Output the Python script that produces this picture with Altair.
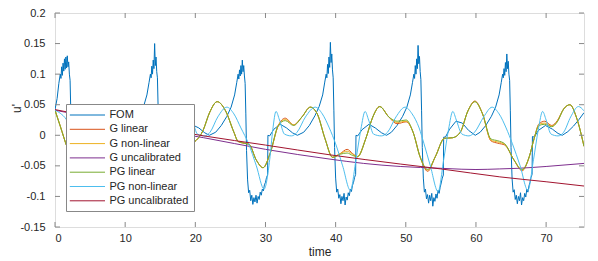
import altair as alt
import pandas as pd

FONT = "Liberation Sans"

names = ["FOM", "G linear", "G non-linear", "G uncalibrated",
         "PG linear", "PG non-linear", "PG uncalibrated"]
colors = ["#0072BD", "#D95319", "#EDB120", "#7E2F8E",
          "#77AC30", "#4DBEEE", "#A2142F"]

x_ticks = [0, 10, 20, 30, 40, 50, 60, 70]
y_ticks = [-0.15, -0.1, -0.05, 0, 0.05, 0.1, 0.15, 0.2]

# ---------------- FOM (noisy reference signal) ----------------
fom_t = [
    0.0, 0.3, 0.55, 0.75, 0.85, 0.95, 1.05, 1.15, 1.25, 1.35, 1.45, 1.55, 1.65, 1.75,
    1.85, 1.95, 2.05, 2.15, 2.25, 2.35, 2.5, 2.65, 2.8, 2.95, 3.1, 3.25, 3.4, 3.55,
    3.7, 3.85, 4.0, 4.15, 4.3, 4.45, 4.6, 4.75, 4.9, 5.05, 5.2, 5.35, 5.4, 5.65,
    6.25, 7.15, 8.0, 8.9, 9.6,
    10.4, 11.2, 12.0, 12.6, 13.1, 13.4, 13.6, 13.7, 13.8, 13.9, 14.0, 14.1, 14.2,
    14.3, 14.4, 14.5, 14.6, 14.7, 14.8, 14.95, 15.1, 15.25, 15.4, 15.55, 15.7, 15.85,
    16.0, 16.15, 16.3, 16.45, 16.6, 16.75, 16.9, 17.05, 17.2, 17.35, 17.5, 17.65,
    17.8, 17.85, 18.1, 18.7, 19.6, 20.5, 21.35, 22.0,
    22.9, 23.7, 24.5, 25.1, 25.6, 25.9, 26.1, 26.2, 26.3, 26.4, 26.5, 26.6, 26.7,
    26.8, 26.9, 27.0, 27.1, 27.2, 27.3, 27.45, 27.6, 27.75, 27.9, 28.05, 28.2, 28.35,
    28.5, 28.65, 28.8, 28.95, 29.1, 29.25, 29.4, 29.55, 29.7, 29.85, 30.0, 30.15,
    30.3, 30.35, 30.6, 31.2, 32.1, 33.0, 33.85, 34.55,
    35.45, 36.25, 37.05, 37.65, 38.15, 38.45, 38.65, 38.75, 38.85, 38.95, 39.05,
    39.15, 39.25, 39.35, 39.45, 39.55, 39.65, 39.75, 39.85, 40.0, 40.15, 40.3, 40.45,
    40.6, 40.75, 40.9, 41.05, 41.2, 41.35, 41.5, 41.65, 41.8, 41.95, 42.1, 42.25,
    42.4, 42.55, 42.7, 42.85, 42.9, 43.15, 43.75, 44.75, 45.65, 46.55, 47.25,
    47.95, 48.75, 49.55, 50.15, 50.65, 50.95, 51.15, 51.25, 51.35, 51.45, 51.55,
    51.65, 51.75, 51.85, 51.95, 52.05, 52.15, 52.25, 52.35, 52.5, 52.65, 52.8, 52.95,
    53.1, 53.25, 53.4, 53.55, 53.7, 53.85, 54.0, 54.15, 54.3, 54.45, 54.6, 54.75,
    54.9, 55.05, 55.2, 55.35, 55.4, 55.65, 56.25, 57.15, 58.05, 58.95, 59.9,
    60.6, 61.4, 62.2, 62.8, 63.3, 63.6, 63.8, 63.9, 64.0, 64.1, 64.2, 64.3, 64.4,
    64.5, 64.6, 64.7, 64.8, 64.9, 65.0, 65.15, 65.3, 65.45, 65.6, 65.75, 65.9, 66.05,
    66.2, 66.35, 66.5, 66.65, 66.8, 66.95, 67.1, 67.25, 67.4, 67.55, 67.7, 67.85,
    68.0, 68.05, 68.3, 68.9, 69.9, 70.9, 71.7, 72.3, 73.1, 73.9, 74.7, 75.4,
]
fom_v = [
    0.042, 0.06, 0.085, 0.1, 0.093, 0.112, 0.098, 0.118, 0.105, 0.125, 0.108, 0.128, 0.11, 0.13,
    0.112, 0.12, 0.1, 0.09, 0.04, -0.02, -0.07, -0.093, -0.088, -0.102, -0.097, -0.108, -0.095, -0.105,
    -0.097, -0.111, -0.1, -0.106, -0.097, -0.103, -0.092, -0.097, -0.088, -0.092, -0.078, -0.066, 0.0, -0.002,
    0.009, 0.017, 0.012, 0.004, 0.001,
    0.005, 0.016, 0.031, 0.046, 0.066, 0.086, 0.1, 0.094, 0.113, 0.1, 0.123, 0.109, 0.15,
    0.114, 0.128, 0.104, 0.094, 0.045, -0.02, -0.068, -0.093, -0.088, -0.105, -0.097, -0.111, -0.097,
    -0.107, -0.095, -0.113, -0.101, -0.107, -0.094, -0.102, -0.09, -0.095, -0.086, -0.078, -0.07,
    -0.064, 0.0, -0.001, 0.009, 0.017, 0.012, 0.004, 0.0,
    0.005, 0.016, 0.031, 0.046, 0.066, 0.086, 0.1, 0.092, 0.107, 0.097, 0.114, 0.1, 0.123,
    0.104, 0.114, 0.097, 0.085, 0.035, -0.025, -0.073, -0.094, -0.09, -0.107, -0.098, -0.113, -0.102,
    -0.109, -0.098, -0.111, -0.1, -0.105, -0.093, -0.098, -0.088, -0.091, -0.081, -0.077, -0.069,
    -0.065, 0.0, -0.001, 0.01, 0.018, 0.012, 0.004, 0.0,
    0.005, 0.016, 0.032, 0.047, 0.066, 0.087, 0.1, 0.094, 0.116, 0.101, 0.128,
    0.111, 0.152, 0.119, 0.133, 0.107, 0.094, 0.04, -0.02, -0.07, -0.093, -0.088, -0.103,
    -0.097, -0.112, -0.1, -0.107, -0.095, -0.114, -0.101, -0.106, -0.094, -0.099, -0.088, -0.092,
    -0.082, -0.077, -0.069, -0.064, 0.0, -0.001, 0.009, 0.018, 0.012, 0.004, 0.0,
    0.005, 0.016, 0.031, 0.046, 0.066, 0.086, 0.1, 0.093, 0.114, 0.1, 0.125,
    0.109, 0.147, 0.117, 0.129, 0.104, 0.091, 0.04, -0.02, -0.07, -0.093, -0.088, -0.104,
    -0.097, -0.111, -0.098, -0.107, -0.095, -0.116, -0.102, -0.108, -0.096, -0.103, -0.09, -0.095,
    -0.085, -0.078, -0.07, -0.065, -0.003, -0.003, 0.01, 0.023, 0.02, 0.008, 0.0,
    0.005, 0.016, 0.031, 0.046, 0.066, 0.086, 0.1, 0.094, 0.109, 0.098, 0.119, 0.104, 0.133,
    0.109, 0.121, 0.1, 0.09, 0.04, -0.02, -0.071, -0.093, -0.089, -0.105, -0.098, -0.112, -0.1,
    -0.107, -0.094, -0.114, -0.102, -0.107, -0.095, -0.101, -0.088, -0.093, -0.083, -0.077, -0.069,
    -0.064, -0.002, -0.003, 0.008, 0.016, 0.01, 0.003, 0.0, 0.006, 0.015, 0.026, 0.037,
]

# ---------------- Galerkin / Petrov-Galerkin linear & non-linear ----------------
glin_t = [0, 0.75, 1.74, 2.73, 4.2, 5.7, 6.69, 7.68, 9.66, 11.14,
          12.63, 14.6, 17.08, 19.06, 21.14, 22.03, 23.12, 24.31, 25.5, 26.09,
          26.98, 27.68, 28.67, 29.66, 30.65, 31.83, 32.82, 34.01, 35.2, 36.39,
          37.38, 38.47, 39.56, 40.65, 41.64, 42.43, 43.12, 44.31, 45.3, 46.29,
          47.58, 48.76, 50.05, 51.04, 52.03, 53.12, 54.21, 55.5, 56.68, 57.77,
          58.86, 59.85, 60.94, 62.13, 63.12, 64.11, 65.4, 66.58, 67.6, 68.3,
          69.0, 69.8, 70.8, 71.6, 72.5, 73.4, 74.3, 75.4]
glin_v = [0.041, 0.015, -0.02, -0.045, -0.055, -0.03, 0.0, 0.025, 0.048, 0.03,
          0.0, -0.03, -0.05, -0.02, 0.009, 0.037, 0.055, 0.04, 0.005, -0.01,
          -0.013, -0.015, -0.04, -0.053, -0.03, 0.016, 0.028, 0.017, 0.03, 0.046,
          0.035, -0.005, -0.036, -0.03, -0.023, -0.03, -0.035, -0.005, 0.03, 0.047,
          0.03, 0.019, 0.022, 0.005, -0.035, -0.059, -0.035, -0.005, -0.004, 0.005,
          0.04, 0.056, 0.035, -0.009, -0.013, -0.016, -0.04, -0.058, -0.035, -0.005,
          0.019, 0.023, 0.016, 0.024, 0.043, 0.05, 0.03, -0.018]
gnl_v = [0.041, 0.015, -0.02, -0.045, -0.055, -0.03, 0.0, 0.025, 0.048, 0.03,
         0.0, -0.03, -0.05, -0.02, 0.009, 0.037, 0.055, 0.04, 0.005, -0.01,
         -0.013, -0.015, -0.04, -0.053, -0.03, 0.016, 0.026, 0.017, 0.03, 0.046,
         0.035, -0.005, -0.036, -0.03, -0.026, -0.031, -0.035, -0.005, 0.03, 0.047,
         0.03, 0.021, 0.023, 0.005, -0.035, -0.057, -0.035, -0.005, -0.004, 0.005,
         0.04, 0.055, 0.035, -0.008, -0.011, -0.015, -0.04, -0.057, -0.035, -0.005,
         0.018, 0.02, 0.015, 0.023, 0.043, 0.05, 0.03, -0.018]
pglin_v = [0.041, 0.015, -0.02, -0.045, -0.055, -0.03, 0.0, 0.025, 0.048, 0.03,
           0.0, -0.03, -0.05, -0.02, 0.009, 0.037, 0.055, 0.04, 0.005, -0.01,
           -0.013, -0.015, -0.04, -0.053, -0.03, 0.016, 0.024, 0.016, 0.03, 0.046,
           0.035, -0.005, -0.036, -0.031, -0.029, -0.033, -0.035, -0.005, 0.03, 0.047,
           0.03, 0.023, 0.025, 0.005, -0.035, -0.056, -0.035, -0.005, -0.004, 0.005,
           0.04, 0.055, 0.035, -0.006, -0.009, -0.014, -0.04, -0.056, -0.035, -0.005,
           0.016, 0.018, 0.014, 0.022, 0.043, 0.05, 0.03, -0.018]

pgnl_t = [0, 0.75, 1.6, 2.6, 3.7, 4.8, 5.6, 6.1, 6.6, 7.1, 7.8, 8.8, 9.6, 10.8,
          12.0, 13.0, 14.0, 15.1, 16.2, 17.3, 18.1, 18.6, 19.1, 19.6, 20.3, 21.3,
          22.1, 23.2, 24.5, 25.5, 26.5, 27.6, 28.7, 29.8, 30.6, 31.05, 31.5, 32.0,
          32.7, 33.7, 34.5, 35.7, 37.1, 38.1, 39.1, 40.0, 41.0, 42.1, 42.9, 43.6,
          44.2, 44.7, 45.4, 46.5, 47.4, 48.6, 49.9, 50.9, 51.9, 52.6, 53.5, 54.6,
          55.4, 56.1, 56.7, 57.2, 58.0, 59.0, 59.8, 61.1, 62.3, 63.3, 64.3, 65.2,
          66.3, 67.4, 68.2, 68.9, 69.5, 70.0, 70.7, 71.7, 72.5, 73.5, 74.6, 75.4]
pgnl_v = [0.041, 0.036, 0.026, 0.0, -0.045, -0.088, -0.04, 0.01, 0.039, 0.025, 0.002, -0.001, 0.005, 0.03,
          0.046, 0.035, 0.012, -0.014, -0.05, -0.088, -0.04, 0.01, 0.039, 0.025, 0.002, -0.001,
          0.005, 0.03, 0.046, 0.035, 0.012, -0.014, -0.05, -0.088, -0.04, 0.01, 0.039, 0.025,
          0.002, -0.001, 0.005, 0.03, 0.046, 0.035, 0.012, -0.014, -0.05, -0.09, -0.04, 0.01,
          0.039, 0.025, 0.002, -0.001, 0.005, 0.03, 0.046, 0.035, 0.012, -0.014, -0.05, -0.092,
          -0.04, 0.01, 0.039, 0.025, 0.002, -0.001, 0.005, 0.03, 0.046, 0.035, 0.012, -0.014,
          -0.05, -0.09, -0.04, 0.01, 0.039, 0.025, 0.002, -0.001, 0.005, 0.03, 0.047, 0.04]

# ---------------- uncalibrated models (slow drift) ----------------
gunc_t = [0, 5, 10, 15, 21.2, 30, 39.2, 44, 49.2, 55, 58, 60, 63.4, 66, 70, 75.4]
gunc_v = [0.041, 0.03, 0.019, 0.008, -0.004, -0.023, -0.039, -0.046, -0.051,
          -0.054, -0.0555, -0.056, -0.055, -0.054, -0.051, -0.046]
pgunc_t = [0, 5, 10, 15, 21.2, 30, 39.2, 49.2, 55, 63.4, 70, 75.4]
pgunc_v = [0.042, 0.031, 0.021, 0.011, -0.001, -0.016, -0.032, -0.047, -0.055,
           -0.068, -0.076, -0.083]

series = {
    "FOM": (fom_t, fom_v),
    "G linear": (glin_t, glin_v),
    "G non-linear": (glin_t, gnl_v),
    "G uncalibrated": (gunc_t, gunc_v),
    "PG linear": (glin_t, pglin_v),
    "PG non-linear": (pgnl_t, pgnl_v),
    "PG uncalibrated": (pgunc_t, pgunc_v),
}

rows = []
for name, (ts, vs) in series.items():
    for i, (t, v) in enumerate(zip(ts, vs)):
        rows.append({"s": name, "t": t, "v": v, "i": i})
df = pd.DataFrame(rows)

PLOT_W = 529
PLOT_H = 214

xs = alt.Scale(domain=[0, 75.4], nice=False, zero=False)
ys = alt.Scale(domain=[-0.15, 0.2], nice=False, zero=False)
cs = alt.Scale(domain=names, range=colors)

xaxis = alt.Axis(values=x_ticks, ticks=False, domain=False, grid=False,
                 labelOverlap=False,
                 labelFont=FONT, labelFontSize=11, labelColor="#262626",
                 labelPadding=5, titleFont=FONT, titleFontSize=12,
                 titleFontWeight="normal", titleColor="#262626", titlePadding=3)
yaxis = alt.Axis(values=y_ticks, ticks=False, domain=False, grid=False,
                 labelOverlap=False, labelExpr="'' + datum.value",
                 labelFont=FONT, labelFontSize=11, labelColor="#262626",
                 labelPadding=10, titleFont=FONT, titleFontSize=12,
                 titleFontWeight="normal", titleColor="#262626",
                 titleX=-32, titleY=95)

legend = alt.Legend(orient="none", legendX=11, legendY=91, title=None,
                    symbolType="M-3.2,0H3.2", symbolSize=121,
                    symbolStrokeWidth=1.0, symbolOffset=10.4,
                    labelOffset=16, labelFont=FONT, labelFontSize=11,
                    labelColor="#262626", padding=5, rowPadding=3.3,
                    strokeColor="#888888", fillColor="white")

X = alt.X("t:Q", scale=xs, axis=xaxis, title="time")
Y = alt.Y("v:Q", scale=ys, axis=yaxis, title="u'")

layers = []
for name in names:
    interp = "linear" if name == "FOM" else "monotone"
    layers.append(
        alt.Chart(df)
        .transform_filter(alt.datum.s == name)
        .mark_line(strokeWidth=1.0, interpolate=interp, clip=True)
        .encode(
            x=X,
            y=Y,
            color=alt.Color("s:N", scale=cs, legend=legend),
            order=alt.Order("i:Q"),
        )
    )

xt = pd.DataFrame({"t": x_ticks})
yt = pd.DataFrame({"v": y_ticks})
tick_color = "#888888"
ticks = [
    alt.Chart(xt).mark_rule(color=tick_color, strokeWidth=1).encode(
        x=X, y=alt.value(PLOT_H), y2=alt.value(PLOT_H - 5)),
    alt.Chart(xt).mark_rule(color=tick_color, strokeWidth=1).encode(
        x=X, y=alt.value(0), y2=alt.value(5)),
    alt.Chart(yt).mark_rule(color=tick_color, strokeWidth=1).encode(
        y=Y, x=alt.value(0), x2=alt.value(5)),
    alt.Chart(yt).mark_rule(color=tick_color, strokeWidth=1).encode(
        y=Y, x=alt.value(PLOT_W), x2=alt.value(PLOT_W - 5)),
]

chart = (
    alt.layer(*(layers + ticks))
    .properties(width=PLOT_W, height=PLOT_H,
                padding={"left": 47, "top": 5, "right": 6, "bottom": 34},
                autosize=alt.AutoSizeParams(type="none"))
    .configure_view(stroke="#888888", strokeWidth=1)
    .configure_axis(labelOverlap=False)
    .configure(background="white")
)

chart.save("out.html", embed_options={"renderer": "svg", "actions": False})
